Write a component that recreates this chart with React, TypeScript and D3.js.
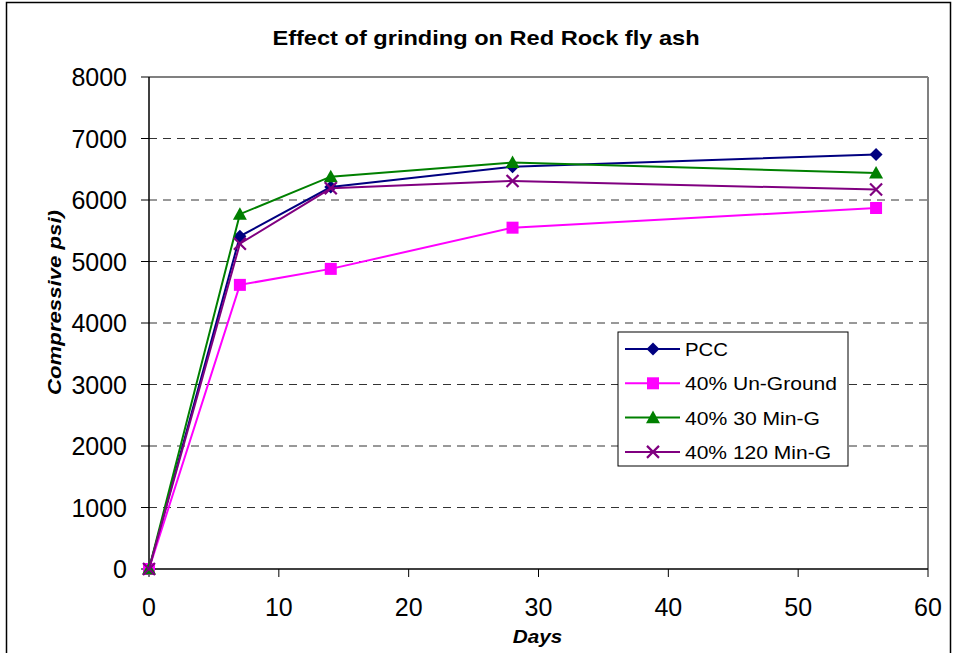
import React from "react";
import * as d3 from "d3";

const days = [0, 7, 14, 28, 56];
const pcc = [0, 5410, 6210, 6540, 6740];
const unGround = [0, 4620, 4880, 5550, 5870];
const min30 = [0, 5770, 6380, 6610, 6440];
const min120 = [0, 5290, 6190, 6310, 6170];
const seriesNames = ["PCC", "40% Un-Ground", "40% 30 Min-G", "40% 120 Min-G"];
const seriesColors = ["#000080", "#FF00FF", "#008000", "#800080"];
const seriesMarkers = ["diamond", "square", "triangle", "x"];
const xTicks = [0, 10, 20, 30, 40, 50, 60];
const yTicks = [0, 1000, 2000, 3000, 4000, 5000, 6000, 7000, 8000];
const legendWidths = [43, 152, 135, 146];

const W = 954, H = 653;
const left = 149, right = 928, top = 77, bottom = 569;

function Marker({ type, x, y, color }: { type: string; x: number; y: number; color: string }) {
  if (type === "diamond") {
    const r = 6.5;
    return <path d={`M${x},${y - r}L${x + r},${y}L${x},${y + r}L${x - r},${y}Z`} fill={color} />;
  }
  if (type === "square") {
    const s = 6;
    return <rect x={x - s} y={y - s} width={2 * s} height={2 * s} fill={color} />;
  }
  if (type === "triangle") {
    const s = 7;
    return <path d={`M${x},${y - s}L${x + s},${y + s * 0.8}L${x - s},${y + s * 0.8}Z`} fill={color} />;
  }
  const s = 6;
  return (
    <path d={`M${x - s},${y - s}L${x + s},${y + s}M${x - s},${y + s}L${x + s},${y - s}`} stroke={color} strokeWidth={2.2} fill="none" />
  );
}

export default function App() {
  const x = d3.scaleLinear().domain([0, 60]).range([left, right]);
  const y = d3.scaleLinear().domain([0, 8000]).range([bottom, top]);
  const allSeries = [pcc, unGround, min30, min120];
  const line = d3
    .line<number>()
    .x((_, i) => x(days[i]))
    .y((d) => y(d));

  const legX = 618, legY = 332, legW = 230, legH = 134;
  const font = "'Liberation Sans', Arial, sans-serif";

  return (
    <svg width={W} height={H} style={{ position: "absolute", left: 0, top: 0 }} fontFamily={font}>
      <rect x={0} y={0} width={W} height={H} fill="#fff" />
      <rect x={6.5} y={2.5} width={944} height={660} fill="none" stroke="#000" strokeWidth={1.5} />
      <text transform="translate(486,45) scale(1.18,1)" textAnchor="middle" fontSize={20} fontWeight="bold">
        Effect of grinding on Red Rock fly ash
      </text>
      {/* gridlines */}
      {yTicks.filter((t) => t > 0 && t < 8000).map((t) => (
        <line key={t} x1={left} x2={right} y1={y(t)} y2={y(t)} stroke="#333" strokeWidth={1} strokeDasharray="8,6" />
      ))}
      {/* frame top/right */}
      <line x1={left} x2={right} y1={top} y2={top} stroke="#808080" strokeWidth={2} />
      <line x1={right} x2={right} y1={top} y2={bottom} stroke="#808080" strokeWidth={2} />
      {/* axes */}
      <line x1={left} x2={left} y1={top} y2={bottom} stroke="#000" strokeWidth={1.5} />
      <line x1={left} x2={right} y1={bottom} y2={bottom} stroke="#000" strokeWidth={1.5} />
      {yTicks.map((t) => (
        <g key={t}>
          <line x1={left - 8} x2={left} y1={y(t)} y2={y(t)} stroke="#000" strokeWidth={1} />
          <text x={127} y={y(t) + 9} textAnchor="end" fontSize={25}>
            {t}
          </text>
        </g>
      ))}
      {xTicks.map((t) => (
        <g key={t}>
          <line x1={x(t)} x2={x(t)} y1={bottom} y2={bottom + 8} stroke="#000" strokeWidth={1} />
          <text x={x(t)} y={616} textAnchor="middle" fontSize={25}>
            {t}
          </text>
        </g>
      ))}
      <text transform="translate(537.5,643) scale(1.15,1)" textAnchor="middle" fontSize={18} fontWeight="bold" fontStyle="italic">
        Days
      </text>
      <text
        transform={`translate(61,302.5) rotate(-90)`}
        textAnchor="middle"
        fontSize={19}
        fontWeight="bold"
        fontStyle="italic"
        textLength={185}
        lengthAdjust="spacingAndGlyphs"
      >
        Compressive psi)
      </text>
      {/* series */}
      {allSeries.map((s, si) => (
        <g key={si}>
          <path d={line(s) || ""} fill="none" stroke={seriesColors[si]} strokeWidth={2} />
          {s.map((v, i) => (
            <Marker key={i} type={seriesMarkers[si]} x={x(days[i])} y={y(v)} color={seriesColors[si]} />
          ))}
        </g>
      ))}
      {/* legend */}
      <rect x={legX} y={legY} width={legW} height={legH} fill="#fff" stroke="#000" strokeWidth={1} />
      {seriesNames.map((n, i) => {
        const ly = 349 + i * 34.3;
        return (
          <g key={n}>
            <line x1={625} x2={680} y1={ly} y2={ly} stroke={seriesColors[i]} strokeWidth={2} />
            <Marker type={seriesMarkers[i]} x={653} y={ly} color={seriesColors[i]} />
            <text x={685} y={ly + 7} fontSize={19} textLength={legendWidths[i]} lengthAdjust="spacingAndGlyphs">
              {n}
            </text>
          </g>
        );
      })}
    </svg>
  );
}
